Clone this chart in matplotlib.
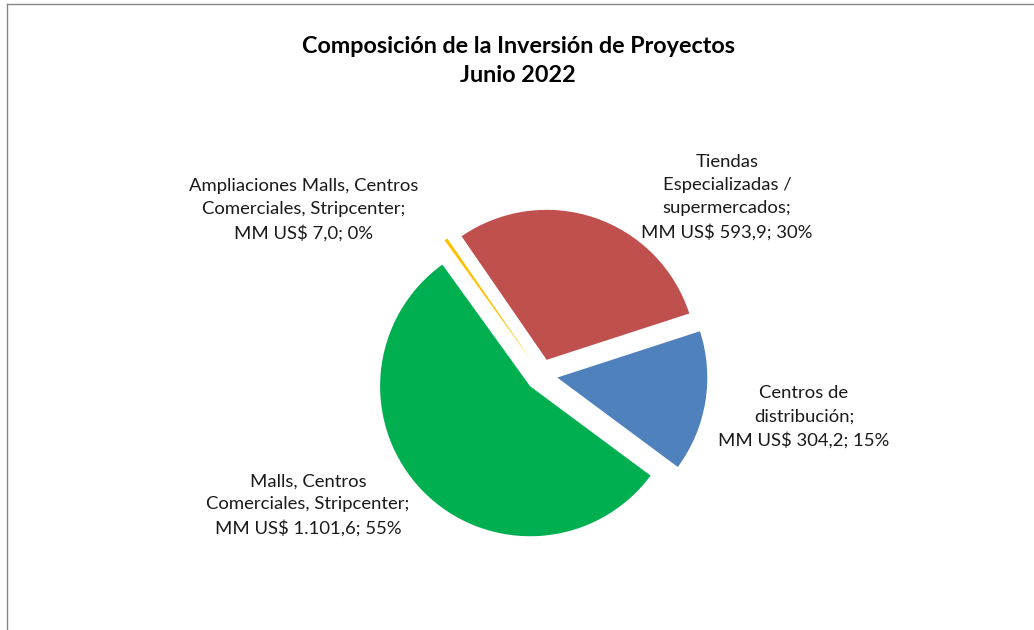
import matplotlib.pyplot as plt
from matplotlib.lines import Line2D

# data
labels = ['Centros de\ndistribución;\nMM US$ 304,2; 15%',
          'Malls, Centros\nComerciales, Stripcenter;\nMM US$ 1.101,6; 55%',
          'Ampliaciones Malls, Centros\nComerciales, Stripcenter;\nMM US$ 7,0; 0%',
          'Tiendas\nEspecializadas /\nsupermercados;\nMM US$ 593,9; 30%']
values = [304.2, 1101.6, 7.0, 593.9]
colors = ['#4F81BD', '#00B050', '#FFC000', '#C0504D']
label_pos = [(804, 417), (308, 505), (304, 210), (727, 197)]

plt.rcParams['font.family'] = ['Lato', 'DejaVu Sans']

W, H = 1034, 630
fig = plt.figure(figsize=(W / 100, H / 100), dpi=100)
ax = fig.add_axes([0, 0, 1, 1])

# explode is in data units (pixels here)
ax.pie(values, colors=colors, startangle=18, counterclock=False,
       center=(541.5, H - 375), radius=150, explode=[16] * 4,
       wedgeprops=dict(linewidth=0))
ax.set_xlim(0, W)
ax.set_ylim(0, H)
ax.set_aspect('auto')
ax.axis('off')

for lab, (x, y) in zip(labels, label_pos):
    ax.text(x, H - y, lab, ha='center', va='center', fontsize=13.3,
            linespacing=1.55, color='#1a1a1a')

ax.text(518, H - 61, 'Composición de la Inversión de Proyectos\nJunio 2022',
        ha='center', va='center', fontsize=16.8, fontweight='bold',
        linespacing=1.42)

# chart border (top and left visible)
fig.add_artist(Line2D([6.5 / W, 6.5 / W], [0, 1 - 4 / H], transform=fig.transFigure,
                      color='#868686', linewidth=1))
fig.add_artist(Line2D([6.5 / W, 1], [1 - 4 / H, 1 - 4 / H], transform=fig.transFigure,
                      color='#868686', linewidth=1))

fig.savefig('out.png', dpi=100)
